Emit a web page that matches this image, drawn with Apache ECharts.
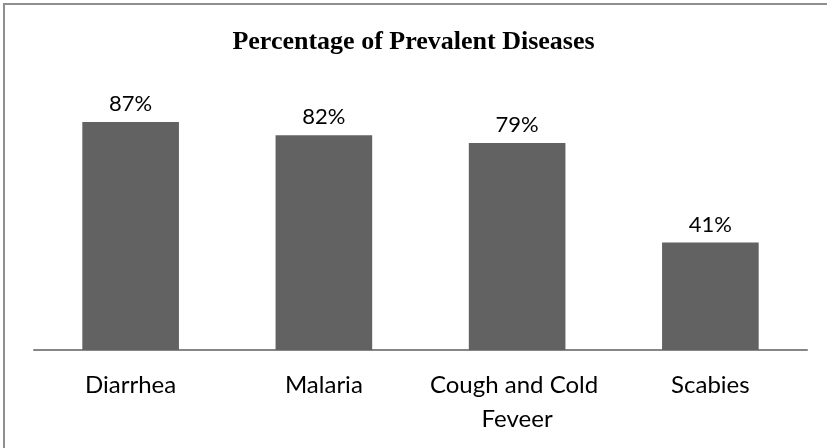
<!DOCTYPE html>
<html>
<head>
<meta charset="utf-8">
<script src="https://cdn.jsdelivr.net/npm/echarts@6/dist/echarts.min.js"></script>
<style>
  html, body { margin: 0; padding: 0; background: #fff; }
  #chart { width: 827px; height: 448px; }
</style>
</head>
<body>
<div id="chart"></div>
<script>
// Disease prevalence, percent of respondents
const diseases = ['Diarrhea', 'Malaria', 'Cough and Cold Feveer', 'Scabies'];
const prevalence = [87, 82, 79, 41];

const chart = echarts.init(document.getElementById('chart'), null, { renderer: 'canvas' });

chart.setOption({
  animation: false,
  backgroundColor: '#ffffff',
  title: {
    text: 'Percentage of Prevalent Diseases',
    left: 'center',
    top: 24,
    textStyle: {
      fontFamily: '"Liberation Serif", "DejaVu Serif", serif',
      fontWeight: 'bold',
      fontSize: 26,
      color: '#000'
    }
  },
  graphic: [{
    type: 'rect',
    shape: { x: 4, y: 4, width: 860, height: 480 },
    style: { fill: 'none', stroke: '#8f8f8f', lineWidth: 2 },
    silent: true
  }],
  grid: { left: 34, right: 20, top: 88, bottom: 98, containLabel: false },
  xAxis: {
    type: 'category',
    data: diseases,
    axisLine: { show: true, lineStyle: { color: '#868686', width: 2 } },
    axisTick: { show: false },
    axisLabel: {
      interval: 0,
      margin: 18,
      width: 180,
      overflow: 'break',
      lineHeight: 34,
      fontFamily: 'Lato, "Open Sans", sans-serif',
      fontSize: 24,
      color: '#000'
    }
  },
  yAxis: {
    type: 'value',
    min: 0,
    max: 100,
    show: false,
    splitLine: { show: false }
  },
  series: [{
    type: 'bar',
    data: prevalence,
    barWidth: '50%',
    itemStyle: { color: '#626262' },
    label: {
      show: true,
      position: 'top',
      distance: 7,
      formatter: '{c}%',
      fontFamily: 'Lato, "Open Sans", sans-serif',
      fontSize: 22,
      color: '#000'
    }
  }]
});
</script>
</body>
</html>
